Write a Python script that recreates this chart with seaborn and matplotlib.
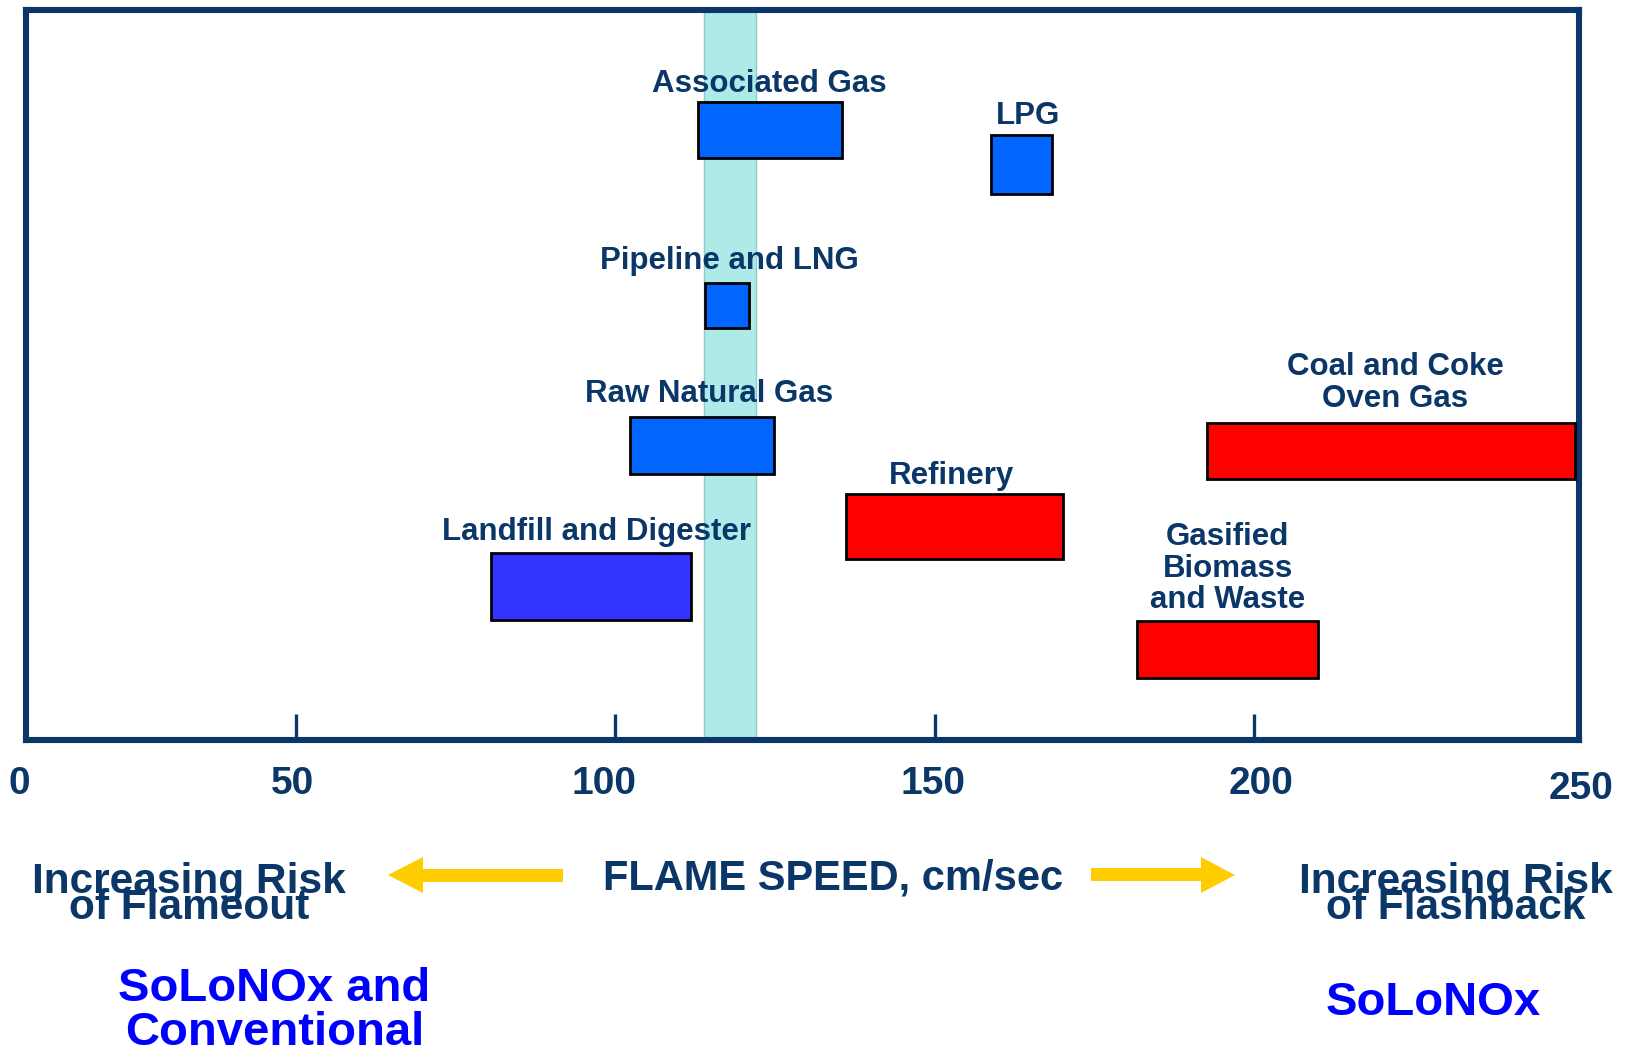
import matplotlib
matplotlib.use("Agg")
import matplotlib.pyplot as plt
from matplotlib.patches import Polygon
from matplotlib.transforms import ScaledTranslation
import seaborn as sns

# Flame-speed ranges of fuel gases, cm/sec
fuels = ["Associated Gas", "LPG", "Pipeline and LNG", "Raw Natural Gas",
         "Landfill and Digester", "Refinery", "Coal and Coke\nOven Gas",
         "Gasified\nBiomass\nand Waste"]
speed_low = [112.9, 158.7, 114.0, 102.2, 80.5, 136.1, 192.6, 181.7]
speed_high = [135.4, 168.4, 120.9, 124.8, 111.8, 170.0, 250.2, 209.9]
fuel_group = ["natural", "natural", "natural", "natural",
              "biogas", "high", "high", "high"]

# Vertical placement of each fuel range on a 0-100 chart scale
row_bottom = [79.8, 74.8, 56.4, 36.5, 16.5, 24.8, 35.7, 8.5]
row_height = [7.6, 8.1, 6.2, 7.7, 9.1, 8.9, 7.8, 7.8]

# Pipeline-quality natural gas design band, cm/sec
design_band = [113.9, 122.0]

tick_values = [50, 100, 150, 200]
tick_text = ["0", "50", "100", "150", "200", "250"]

# ---- styling ----
NAVY = "#0a3768"
BLUE_TXT = "#0000ff"
YELLOW = "#ffcc00"
group_color = {"natural": "#0066ff", "biogas": "#3333ff", "high": "#ff0000"}

sns.set_theme(style="white")
plt.rcParams["font.family"] = ["Liberation Sans", "DejaVu Sans"]
plt.rcParams["font.weight"] = "bold"

W, H = 1632, 1051
fig = plt.figure(figsize=(W / 100, H / 100), dpi=100)

# frame edges in pixels
left_px, right_px, top_px, bot_px = 26, 1579, 10.3, 740
ax = fig.add_axes([left_px / W, 1 - bot_px / H,
                   (right_px - left_px) / W, (bot_px - top_px) / H])
x_lo, x_hi = 7.75, 250.8
ax.set_xlim(x_lo, x_hi)
ax.set_ylim(0, 100)

ax.axvspan(design_band[0], design_band[1], facecolor="#aeeae8",
           edgecolor="#8fcccc", linewidth=1.0, zorder=1)

widths = [h - l for l, h in zip(speed_low, speed_high)]
colors = [group_color[g] for g in fuel_group]
ax.barh([b + h / 2 for b, h in zip(row_bottom, row_height)], widths,
        height=row_height, left=speed_low, color=colors,
        edgecolor="black", linewidth=2.0, zorder=3)

# label placement: gap (px) between last baseline and bar top, x nudge (px)
label_gap = [10, 11, 14, 15, 13, 10, 16, 13]
label_dx = [0, 7, 2, 7, 6, -3, 4, 0]
line_step = 31.5
for name, lo, hi, b, h, gap, dx in zip(fuels, speed_low, speed_high,
                                       row_bottom, row_height,
                                       label_gap, label_dx):
    lines = name.split("\n")
    for j, line in enumerate(reversed(lines)):
        ax.annotate(line, xy=((lo + hi) / 2, b + h), xycoords="data",
                    xytext=(dx * 0.72, (gap + j * line_step) * 0.72),
                    textcoords="offset points", ha="center", va="baseline",
                    fontsize=22.5, fontweight="bold", color=NAVY, zorder=5)

for side in ["left", "right", "top", "bottom"]:
    ax.spines[side].set_color(NAVY)
    ax.spines[side].set_linewidth(4.4)
    ax.spines[side].set_visible(True)

ax.set_xticks([x_lo] + tick_values + [x_hi], labels=tick_text)
ax.set_yticks([])
ax.tick_params(axis="x", direction="in", length=19, width=2.4, color=NAVY,
               pad=18.5, labelsize=28, labelcolor=NAVY, bottom=True)
ax.grid(False)

# small hand-set nudges of the tick labels (pixels: dx, dy up)
label_nudge = [(-7, 0), (-3, 0), (-11, 0), (-2, 0), (7, 0), (2, -5)]
for tick, (ndx, ndy) in zip(ax.xaxis.get_major_ticks(), label_nudge):
    tick.label1.set_fontweight("bold")
    tick.label1.set_transform(tick.label1.get_transform() +
                              ScaledTranslation(ndx / 100, ndy / 100,
                                                fig.dpi_scale_trans))

# ---- annotation layer below the chart, in pixel coordinates ----
ov = fig.add_axes([0, 0, 1, 1], zorder=-1)
ov.set_xlim(0, W)
ov.set_ylim(H, 0)
ov.axis("off")

ov.text(833, 890, "FLAME SPEED, cm/sec", ha="center", va="baseline",
        fontsize=30, fontweight="bold", color=NAVY)

for cx, words in [(189, ["Increasing Risk", "of Flameout"]),
                  (1456, ["Increasing Risk", "of Flashback"])]:
    ov.text(cx, 893, words[0], ha="center", va="baseline",
            fontsize=30.5, fontweight="bold", color=NAVY)
    ov.text(cx, 919, words[1], ha="center", va="baseline",
            fontsize=30.5, fontweight="bold", color=NAVY)

ov.text(274.5, 1001, "SoLoNOx and", ha="center", va="baseline",
        fontsize=34, fontweight="bold", color=BLUE_TXT)
ov.text(274.5, 1045, "Conventional", ha="center", va="baseline",
        fontsize=34, fontweight="bold", color=BLUE_TXT)
ov.text(1433, 1015, "SoLoNOx", ha="center", va="baseline",
        fontsize=34, fontweight="bold", color=BLUE_TXT)

left_arrow = [(388, 875), (423, 857), (423, 869), (563, 869), (563, 882),
              (423, 882), (423, 893)]
right_arrow = [(1235, 875), (1201, 857), (1201, 868), (1091, 868),
               (1091, 881), (1201, 881), (1201, 893)]
for pts in (left_arrow, right_arrow):
    ov.add_patch(Polygon(pts, closed=True, facecolor=YELLOW,
                         edgecolor="none"))

fig.savefig("out.png", dpi=100, facecolor="white")
